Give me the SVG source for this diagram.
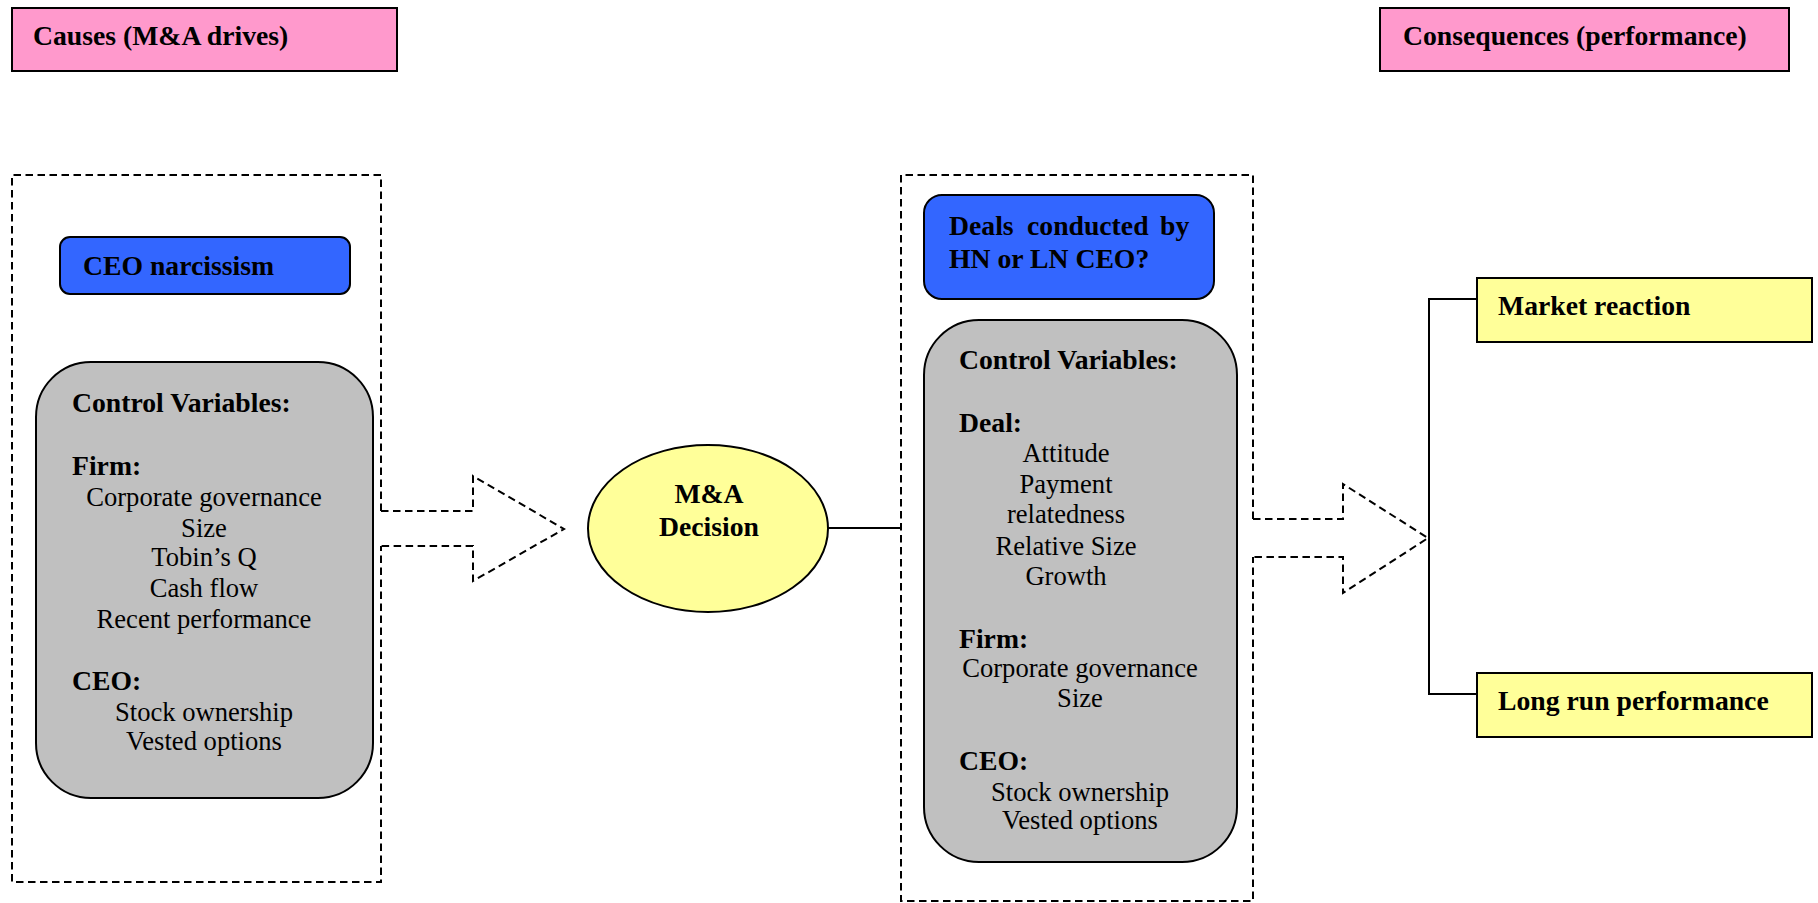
<svg xmlns="http://www.w3.org/2000/svg" width="1818" height="903" viewBox="0 0 1818 903">
<style>
  .hdr { fill: #FF99CC; stroke: #000; stroke-width: 2; }
  .blue { fill: #3366FF; stroke: #000; stroke-width: 2; }
  .gray { fill: #C0C0C0; stroke: #000; stroke-width: 2; }
  .yel { fill: #FFFF99; stroke: #000; stroke-width: 2; }
  .dash { fill: none; stroke: #000; stroke-width: 2; stroke-dasharray: 7.5 4.5; }
  .line { fill: none; stroke: #000; stroke-width: 2; }
  .b { font-family: "Liberation Serif", "Times New Roman", serif; font-weight: bold; font-size: 27.7px; fill: #000; }
  .r { font-family: "Liberation Serif", "Times New Roman", serif; font-size: 26.6px; fill: #000; }
  .c { text-anchor: middle; }
</style>
<rect width="1818" height="903" fill="#fff"/>

<g id="causes-header">
  <rect class="hdr" x="12" y="8" width="385" height="63"/>
  <text class="b" x="33" y="45">Causes (M&amp;A drives)</text>
</g>
<g id="consequences-header">
  <rect class="hdr" x="1380" y="8" width="409" height="63"/>
  <text class="b" x="1403" y="45">Consequences (performance)</text>
</g>

<g id="causes-frame">
  <path class="dash" d="M381,511 L381,175 L12,175 L12,882 L381,882 L381,546"/>
</g>
<g id="ceo-narcissism">
  <rect class="blue" x="60" y="237" width="290" height="57" rx="10"/>
  <text class="b" x="83" y="275">CEO narcissism</text>
</g>
<g id="controls-left">
  <rect class="gray" x="36" y="362" width="337" height="436" rx="55"/>
  <text class="b" x="72" y="412">Control Variables:</text>
  <text class="b" x="72" y="475">Firm:</text>
  <text class="r c" x="204" y="506">Corporate governance</text>
  <text class="r c" x="204" y="537">Size</text>
  <text class="r c" x="204" y="566">Tobin’s Q</text>
  <text class="r c" x="204" y="597">Cash flow</text>
  <text class="r c" x="204" y="628">Recent performance</text>
  <text class="b" x="72" y="690">CEO:</text>
  <text class="r c" x="204" y="721">Stock ownership</text>
  <text class="r c" x="204" y="750">Vested options</text>
</g>

<g id="ma-decision">
  <ellipse class="yel" cx="708" cy="528.5" rx="120" ry="83.5"/>
  <text class="b c" x="709" y="503">M&amp;A</text>
  <text class="b c" x="709" y="536">Decision</text>
</g>

<g id="deals-frame">
  <path class="dash" d="M1253,519 L1253,175 L901,175 L901,901 L1253,901 L1253,557"/>
</g>
<g id="deals-question">
  <rect class="blue" x="924" y="195" width="290" height="104" rx="18"/>
  <text class="b" y="235"><tspan x="949">Deals</tspan><tspan x="1027">conducted</tspan><tspan x="1160">by</tspan></text>
  <text class="b" x="949" y="268">HN or LN CEO?</text>
</g>
<g id="controls-middle">
  <rect class="gray" x="924" y="320" width="313" height="542" rx="55"/>
  <text class="b" x="959" y="369">Control Variables:</text>
  <text class="b" x="959" y="432">Deal:</text>
  <text class="r c" x="1066" y="462">Attitude</text>
  <text class="r c" x="1066" y="493">Payment</text>
  <text class="r c" x="1066" y="523">relatedness</text>
  <text class="r c" x="1066" y="555">Relative Size</text>
  <text class="r c" x="1066" y="585">Growth</text>
  <text class="b" x="959" y="648">Firm:</text>
  <text class="r c" x="1080" y="677">Corporate governance</text>
  <text class="r c" x="1080" y="707">Size</text>
  <text class="b" x="959" y="770">CEO:</text>
  <text class="r c" x="1080" y="801">Stock ownership</text>
  <text class="r c" x="1080" y="829">Vested options</text>
</g>

<g id="market-reaction">
  <rect class="yel" x="1477" y="278" width="335" height="64"/>
  <text class="b" x="1498" y="315">Market reaction</text>
</g>
<g id="long-run">
  <rect class="yel" x="1477" y="673" width="335" height="64"/>
  <text class="b" x="1498" y="710">Long run performance</text>
</g>

<g id="connectors">
  <path class="dash" d="M381,511 L473,511 L473,476 L564,529 L473,581 L473,546 L381,546"/>
  <line class="line" x1="828" y1="528" x2="901" y2="528"/>
  <path class="dash" d="M1253,519 L1343,519 L1343,484 L1428,538 L1343,593 L1343,557 L1253,557"/>
  <path class="line" d="M1477,299 L1429,299 L1429,694 L1477,694"/>
</g>
</svg>
